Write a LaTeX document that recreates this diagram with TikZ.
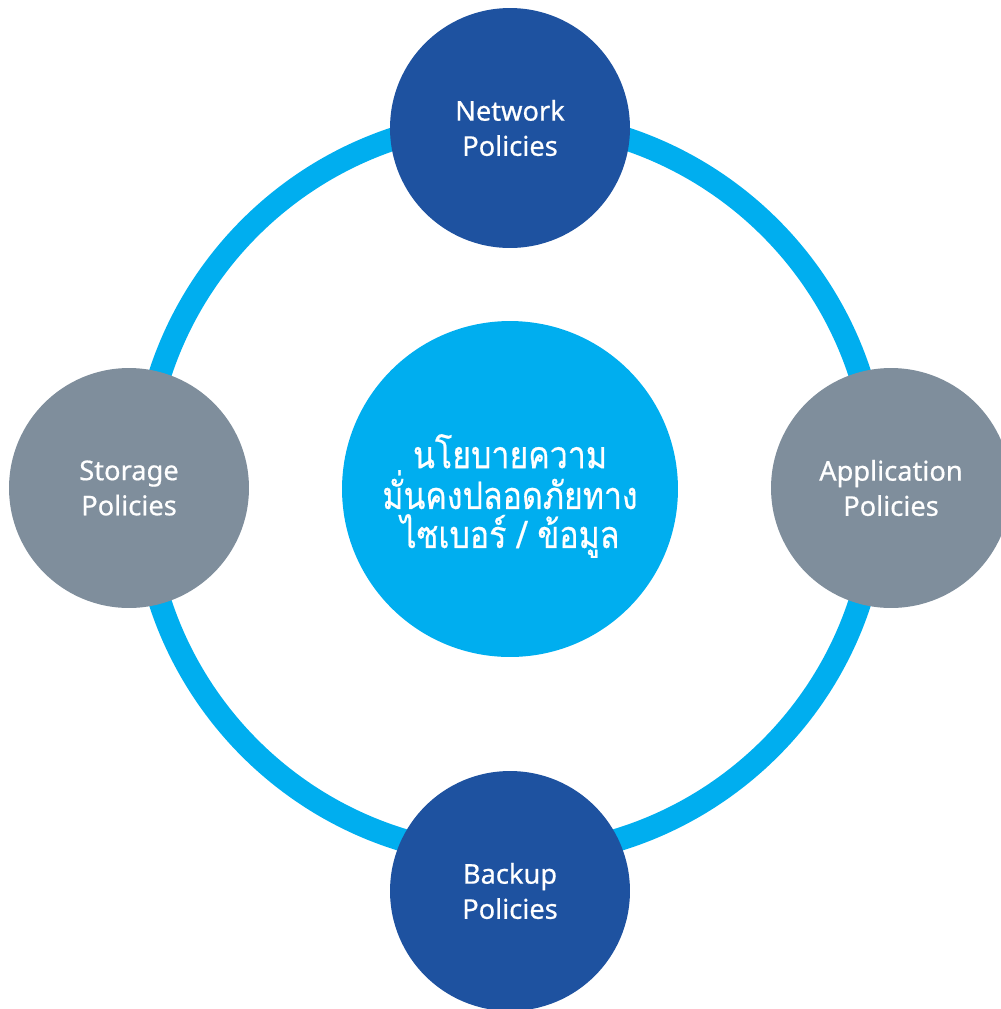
\documentclass[tikz,border=0pt]{standalone}
\usepackage{fontspec}
\setmainfont{Noto Sans}[FakeBold=0.6]
\newfontfamily\thaifont[Script=Thai,FakeStretch=0.85,FakeBold=0.5]{Loma}
\usepackage{tikz}
\definecolor{DarkBlue}{RGB}{30,82,160}
\definecolor{SkyBlue}{RGB}{0,174,239}
\definecolor{SlateGray}{RGB}{127,142,156}
\tikzstyle{policy}=[circle,minimum size=4.8cm,inner sep=0pt,text=white,align=center,font=\fontsize{15.5}{20}\selectfont]
\tikzstyle{p1}=[fill=DarkBlue]
\tikzstyle{p2}=[fill=SlateGray]
\tikzstyle{core}=[circle,minimum size=6.72cm,inner sep=0pt,fill=SkyBlue]
\tikzstyle{coretext}=[text=white,align=center,font=\thaifont\fontsize{21.5}{22.2}\selectfont]
\tikzstyle{ring}=[draw=SkyBlue,line width=0.46cm]

\begin{document}
\begin{tikzpicture}[x=0.02cm,y=-0.02cm]
\useasboundingbox (0,0) rectangle (1001,1009);
\clip (0,0) rectangle (1001,1009);
\coordinate (hub) at (510,488);
\draw[ring] (hub) circle [radius=7.36cm];
\node[core] (policy) at (510,489) {};
\node[coretext] (policytext) at (510,496) {นโยบายความ\\มั่นคงปลอดภัยทาง\\ไซเบอร์ / ข้อมูล};
\foreach \place/\name/\txt in {{(510,128)/network/{Network\\Policies}}, {(510,891)/backup/{Backup\\Policies}}}
    \node[policy,p1] (\name) at \place {\txt};
\foreach \place/\name/\txt in {{(129,488)/storage/{Storage\\Policies}}, {(891,488)/application/{Application\\Policies}}}
    \node[policy,p2] (\name) at \place {\txt};
\end{tikzpicture}
\end{document}
